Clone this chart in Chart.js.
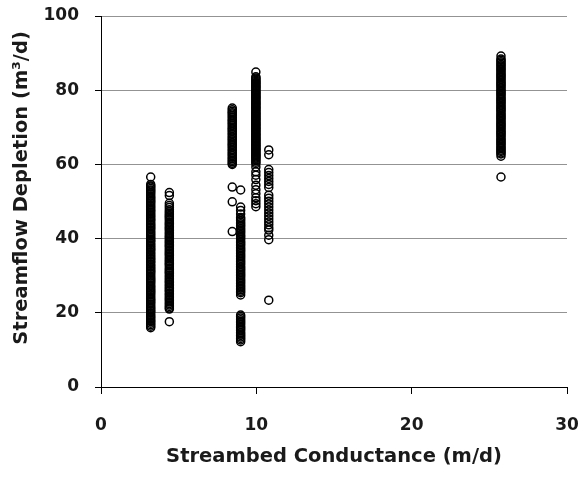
<!DOCTYPE html>
<html>
<head>
<meta charset="utf-8">
<script src="https://cdn.jsdelivr.net/npm/chart.js@4"></script>
<style>
  html, body { margin: 0; padding: 0; background: #fff; }
</style>
</head>
<body>
<canvas id="myChart" width="587" height="477"></canvas>
<script>
// conductance (m/d) of each column of runs
var xCol1 = 3.2, xCol2 = 4.4, xCol3 = 8.45, xCol4 = 8.99, xCol5 = 9.97, xCol6 = 10.8, xCol7 = 25.75;

// streamflow depletion (m3/d) per column
var col1 = [56.6, 54.2, 53.5, 52.8, 52.0, 51.1, 50.3, 49.6, 48.7, 47.9, 47.2, 46.3, 45.5, 44.8, 43.9, 43.1, 42.4, 41.5, 40.7, 39.9, 39.2, 38.3, 37.5, 36.8, 35.9, 35.1, 34.4, 33.6, 32.7, 31.9, 31.2, 30.4, 29.5, 28.8, 28.0, 27.1, 26.3, 25.6, 24.8, 23.9, 23.2, 22.4, 21.5, 20.7, 20.0, 19.1, 18.3, 17.6, 16.8, 16.0,
            54.6, 53.9, 53.1, 52.4, 51.5, 50.7, 49.9, 49.1, 48.3, 47.5, 46.7, 45.9, 45.1, 44.3, 43.5, 42.8, 41.9, 41.1, 40.3, 39.5, 38.7, 37.9, 37.1, 36.3, 35.5, 34.7, 33.9, 33.1, 32.3, 31.5, 30.8, 29.9, 29.1, 28.4, 27.5, 26.7, 25.9, 25.2, 24.3, 23.5, 22.8, 21.9, 21.1, 20.4, 19.5, 18.7, 17.9, 17.2, 16.4];
var col2 = [52.4, 51.6, 49.5, 48.4, 47.3, 46.5, 45.8, 45.0, 44.1, 43.3, 42.6, 41.7, 40.9, 40.2, 39.3, 38.5, 37.8, 36.9, 36.1, 35.4, 34.5, 33.7, 33.0, 32.1, 31.3, 30.6, 29.7, 28.9, 28.2, 27.3, 26.5, 25.8, 24.9, 24.1, 23.4, 22.5, 21.7, 21.0, 17.6,
            48.9, 47.8, 46.9, 46.1, 45.4, 44.5, 43.7, 42.9, 42.2, 41.3, 40.5, 39.7, 38.9, 38.1, 37.3, 36.5, 35.8, 34.9, 34.1, 33.3, 32.6, 31.7, 30.9, 30.1, 29.3, 28.5, 27.7, 26.9, 26.1, 25.3, 24.5, 23.7, 22.9, 22.1, 21.3];
var col3 = [75.2, 74.3, 73.6, 72.7, 71.8, 71.0, 70.1, 69.3, 68.4, 67.5, 66.7, 65.8, 65.0, 64.1, 63.2, 62.4, 61.5, 60.7, 60.0, 53.9, 49.9, 41.9,
            74.7, 73.9, 73.1, 72.2, 71.4, 70.6, 69.7, 68.9, 68.0, 67.1, 66.3, 65.4, 64.6, 63.7, 62.8, 61.9, 61.1, 60.3];
var col4 = [53.1, 48.5, 47.6, 46.6, 45.7, 44.9, 44.0, 43.2, 42.3, 41.5, 40.6, 39.8, 38.9, 38.1, 37.2, 36.4, 35.5, 34.7, 33.8, 33.0, 32.1, 31.3, 30.4, 29.6, 28.7, 27.9, 27.0, 26.2, 25.4, 24.8, 19.4, 18.6, 17.7, 16.9, 16.0, 15.2, 14.3, 13.5, 12.7, 12.2,
            45.3, 44.4, 43.6, 42.7, 41.9, 41.0, 40.2, 39.3, 38.5, 37.6, 36.8, 35.9, 35.1, 34.2, 33.4, 32.5, 31.7, 30.8, 30.0, 29.1, 28.3, 27.4, 26.6, 25.8, 19.0, 18.1, 17.3, 16.4, 15.6, 14.7, 13.9, 13.1];
var col5 = [84.9, 83.6, 83.0, 82.4, 81.9, 81.3, 80.8, 80.2, 79.6, 79.1, 78.5, 78.0, 77.4, 76.8, 76.3, 75.7, 75.2, 74.6, 74.0, 73.5, 72.9, 72.4, 71.8, 71.2, 70.7, 70.1, 69.6, 69.0, 68.4, 67.9, 67.3, 66.8, 66.2, 65.6, 65.1, 64.5, 64.0, 63.4, 62.8, 62.3, 61.7, 61.0, 60.2, 59.3, 58.0, 57.1, 55.9, 54.4, 53.2, 52.1, 51.0, 50.2, 49.4, 48.6,
            83.3, 82.7, 82.1, 81.6, 81.0, 80.5, 79.9, 79.3, 78.8, 78.2, 77.7, 77.1, 76.5, 76.0, 75.4, 74.9, 74.3, 73.7, 73.2, 72.6, 72.1, 71.5, 70.9, 70.4, 69.8, 69.3, 68.7, 68.1, 67.6, 67.0, 66.5, 65.9, 65.3, 64.8, 64.2, 63.7, 63.1, 62.5, 62.0, 61.4, 60.6];
var col6 = [63.9, 62.6, 58.6, 57.8, 57.0, 56.2, 55.4, 54.6, 53.8, 51.7, 50.9, 50.1, 49.3, 48.5, 47.7, 46.9, 46.1, 45.3, 44.5, 43.7, 42.9, 42.3, 40.9, 39.7, 23.4];
var col7 = [89.2, 88.4, 87.7, 86.9, 86.2, 85.5, 84.7, 84.0, 83.3, 82.5, 81.8, 81.1, 80.3, 79.6, 78.9, 78.1, 77.4, 76.7, 75.9, 75.2, 74.5, 73.7, 73.0, 72.3, 71.5, 70.8, 70.1, 69.3, 68.6, 67.9, 67.1, 66.4, 65.7, 64.9, 64.2, 63.5, 62.8, 62.2, 56.6,
            88.1, 87.3, 86.6, 85.8, 85.1, 84.3, 83.6, 82.9, 82.1, 81.4, 80.7, 79.9, 79.2, 78.5, 77.7, 77.0, 76.3, 75.5, 74.8, 74.1, 73.3, 72.6, 71.9, 71.1, 70.4, 69.7, 68.9, 68.2, 67.5, 66.7, 66.0, 65.3, 64.5, 63.8, 63.1];

var xTicks = [0, 10, 20, 30];
var yTicks = [0, 20, 40, 60, 80, 100];

var cols = [[xCol1, col1], [xCol2, col2], [xCol3, col3], [xCol4, col4], [xCol5, col5], [xCol6, col6], [xCol7, col7]];
var points = [];
cols.forEach(function (c) {
    c[1].forEach(function (v) { points.push({x: c[0], y: v}); });
});

var labelFont = {family: 'DejaVu Sans', weight: 'bold', size: 17};
var titleFont = {family: 'DejaVu Sans', weight: 'bold', size: 19.5};
var textColor = '#1a1a1a';

var ctx = document.getElementById('myChart').getContext('2d');
var chart = new Chart(ctx, {
    type: 'scatter',
    data: {
        datasets: [{
            data: points,
            pointStyle: 'circle',
            pointRadius: 4,
            pointBorderWidth: 1.5,
            borderColor: '#000',
            backgroundColor: 'rgba(0,0,0,0)'
        }]
    },
    options: {
        responsive: false,
        animation: false,
        layout: {padding: {top: 16, right: 20, bottom: 0, left: 0}},
        plugins: {legend: {display: false}, tooltip: {enabled: false}},
        scales: {
            x: {
                type: 'linear',
                min: 0,
                max: 30,
                afterBuildTicks: function (s) { s.ticks = xTicks.map(function (v) { return {value: v}; }); },
                afterFit: function (s) { s.height = 90; s.paddingLeft = 0; s.paddingRight = 0; },
                ticks: {padding: 21, color: textColor, font: labelFont},
                grid: {drawOnChartArea: false, tickLength: 7, tickColor: '#000'},
                border: {color: '#000', width: 1},
                title: {display: true, text: 'Streambed Conductance (m/d)', color: textColor, font: titleFont, padding: {top: 0, bottom: 8}}
            },
            y: {
                min: 0,
                max: 100,
                afterBuildTicks: function (s) { s.ticks = yTicks.map(function (v) { return {value: v}; }); },
                afterFit: function (s) { s.width = 101; s.paddingTop = 0; s.paddingBottom = 0; },
                ticks: {padding: 16, color: textColor, font: labelFont},
                grid: {color: '#939393', tickLength: 6, tickColor: '#000'},
                border: {color: '#000', width: 1},
                // leading spaces nudge the rotated title up a little, as in the original
                title: {display: true, text: '    Streamflow Depletion (m³/d)', color: textColor, font: titleFont, padding: {top: 10, bottom: 0}}
            }
        }
    }
});
</script>
</body>
</html>
